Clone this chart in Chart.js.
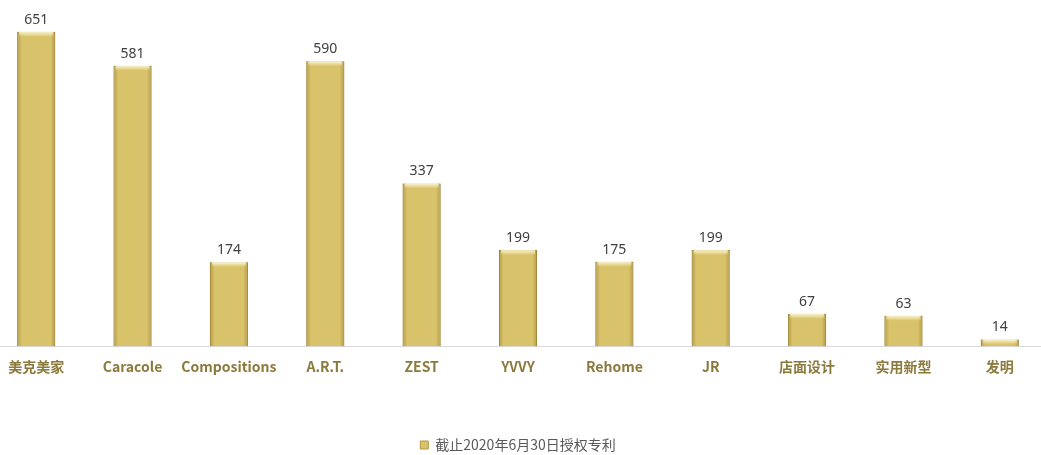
<!DOCTYPE html>
<html>
<head>
<meta charset="utf-8">
<script src="https://cdn.jsdelivr.net/npm/chart.js@4.4.1/dist/chart.umd.min.js"></script>
<style>
  html, body { margin: 0; padding: 0; background: #fff; overflow: hidden; }
  #wrap { position: absolute; left: -12px; top: 0; width: 1060px; height: 462px; }
</style>
</head>
<body>
<div id="wrap"><canvas id="patentChart"></canvas></div>
<script>
// categories and values
const categories = ['美克美家', 'Caracole', 'Compositions', 'A.R.T.', 'ZEST', 'YVVY', 'Rehome', 'JR', '店面设计', '实用新型', '发明'];
const patents = [651, 581, 174, 590, 337, 199, 175, 199, 67, 63, 14];
const seriesLabel = '截止2020年6月30日授权专利';

// bevel shading on top of each bar
const bevelPlugin = {
  id: 'bevel',
  afterDatasetDraw(chart, args) {
    const ctx = chart.ctx;
    args.meta.data.forEach(bar => {
      const left = bar.x - bar.width / 2, right = bar.x + bar.width / 2;
      const top = bar.y, bottom = bar.base;
      const g = ctx.createLinearGradient(left, 0, right, 0);
      g.addColorStop(0, 'rgba(130,100,20,0.4)');
      g.addColorStop(0.12, 'rgba(130,100,20,0)');
      g.addColorStop(0.88, 'rgba(130,100,20,0)');
      g.addColorStop(1, 'rgba(130,100,20,0.4)');
      ctx.save();
      ctx.fillStyle = g;
      ctx.fillRect(left, top, right - left, bottom - top);
      const h = Math.min(5, bottom - top);
      const tg = ctx.createLinearGradient(0, top, 0, top + h);
      tg.addColorStop(0, 'rgba(255,250,215,0.9)');
      tg.addColorStop(1, 'rgba(255,250,215,0)');
      ctx.fillStyle = tg;
      ctx.fillRect(left + 2, top, right - left - 4, h);
      ctx.restore();
    });
  }
};

// value labels above bars
const valueLabels = {
  id: 'valueLabels',
  afterDatasetsDraw(chart) {
    const ctx = chart.ctx;
    const meta = chart.getDatasetMeta(0);
    ctx.save();
    ctx.font = '14px "Noto Sans", sans-serif';
    ctx.fillStyle = '#404040';
    ctx.textAlign = 'center';
    ctx.textBaseline = 'bottom';
    meta.data.forEach((bar, i) => {
      ctx.fillText(String(patents[i]), bar.x, bar.y - 5);
    });
    ctx.restore();
  }
};

new Chart(document.getElementById('patentChart'), {
  type: 'bar',
  data: {
    labels: categories,
    datasets: [{
      label: seriesLabel,
      data: patents,
      backgroundColor: '#D8C26A',
      borderColor: '#B29843',
      borderWidth: 1,
      borderSkipped: 'bottom',
      barPercentage: 0.395,
      categoryPercentage: 1
    }]
  },
  options: {
    responsive: true,
    maintainAspectRatio: false,
    animation: false,
    layout: { padding: 0 },
    plugins: {
      legend: {
        position: 'bottom',
        labels: {
          boxWidth: 8, boxHeight: 8, padding: 51,
          color: '#595959',
          font: { size: 14, family: '"Noto Sans CJK SC", sans-serif' }
        }
      },
      tooltip: { enabled: false }
    },
    scales: {
      x: {
        grid: { display: false, drawTicks: false },
        border: { display: true, color: '#D9D9D9', width: 1 },
        ticks: {
          color: '#8B7A3C',
          padding: 12,
          autoSkip: false,
          maxRotation: 0,
          font: { size: 14, weight: 'bold', family: '"Noto Sans CJK SC", sans-serif' }
        }
      },
      y: {
        display: false,
        min: 0,
        max: 717
      }
    }
  },
  plugins: [bevelPlugin, valueLabels]
});
</script>
</body>
</html>
